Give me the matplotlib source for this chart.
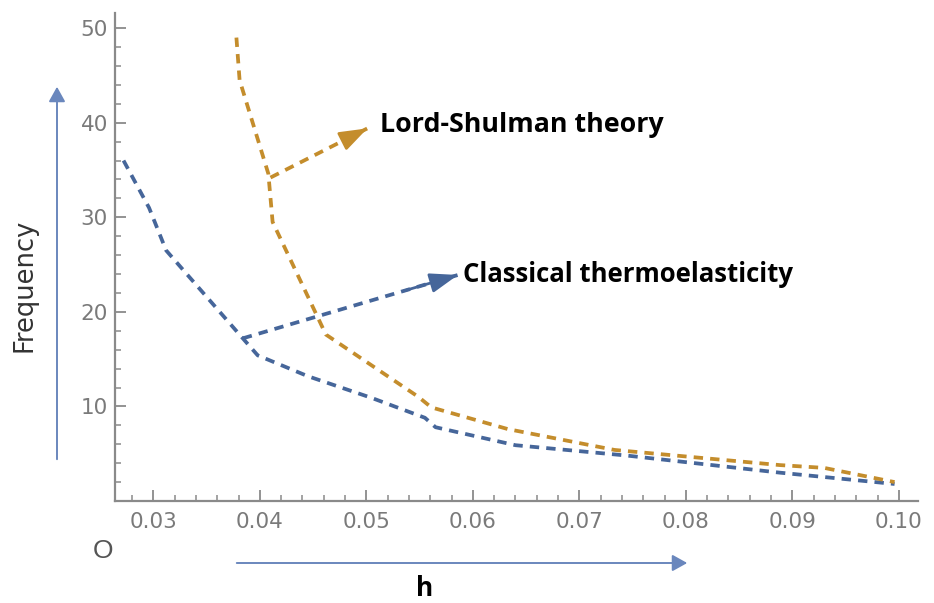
import matplotlib.pyplot as plt
from matplotlib.patches import FancyArrowPatch
from matplotlib.ticker import MultipleLocator, FormatStrFormatter

# data
h_classical = [0.0272, 0.0296, 0.0312, 0.0384, 0.0398, 0.0445, 0.0505, 0.0555, 0.0565,
               0.0640, 0.0745, 0.0888, 0.0942, 0.0996]
f_classical = [36.0, 31.0, 26.5, 17.2, 15.4, 13.2, 10.9, 8.8, 7.8,
               5.9, 4.8, 3.0, 2.4, 1.8]

h_ls = [0.0378, 0.0381, 0.0408, 0.0412, 0.0462, 0.0549, 0.0561, 0.0633, 0.0733,
        0.0888, 0.0930, 0.0996]
f_ls = [49.0, 44.5, 34.6, 29.5, 17.6, 11.0, 9.9, 7.6, 5.4,
        3.8, 3.5, 2.0]

x_ticks = [0.03, 0.04, 0.05, 0.06, 0.07, 0.08, 0.09, 0.10]
y_ticks = [10, 20, 30, 40, 50]

# annotation arrows (start on the curve, tip next to the label)
ls_arrow = ((0.0410, 34.2), (0.0501, 39.4))
cl_arrow = ((0.0384, 17.2), (0.0586, 23.9))
ls_label = "Lord-Shulman theory"
cl_label = "Classical thermoelasticity"

blue = '#46669a'
orange = '#c48d2c'
axis_grey = '#8a8a8a'
guide_blue = '#6a87bd'

fig = plt.figure(figsize=(9.34, 6.03), dpi=100)
ax = fig.add_axes([115/934, 1 - 501/603, (918 - 115)/934, (501 - 13)/603])

dash = (2.5, 1.9)
lw = 2.7
ax.plot(h_classical, f_classical, color=blue, lw=lw, dashes=dash)
ax.plot(h_ls, f_ls, color=orange, lw=lw, dashes=dash)

# dashed shafts + solid heads for the labels
for (start, tip), col in [(ls_arrow, orange), (cl_arrow, blue)]:
    ax.plot([start[0], tip[0]], [start[1], tip[1]], color=col, lw=lw, dashes=dash)
    ax.annotate('', xy=tip, xytext=(tip[0] - (tip[0] - start[0]) * 0.25,
                                    tip[1] - (tip[1] - start[1]) * 0.25),
                arrowprops=dict(arrowstyle='-|>,head_length=1.7,head_width=0.6',
                                color=col, lw=2.0, shrinkA=0, shrinkB=0))

ax.text(ls_arrow[1][0] + 0.0012, ls_arrow[1][1] + 0.4, ls_label, fontsize=19.3,
        fontweight='bold', family='Open Sans', va='center', ha='left', color='black')
ax.text(cl_arrow[1][0] + 0.0005, cl_arrow[1][1], cl_label, fontsize=18.5,
        fontweight='bold', family='Open Sans', va='center', ha='left', color='black')

ax.set_xlim(0.0264, 0.1018)
ax.set_ylim(0, 51.6)
ax.set_xticks(x_ticks)
ax.set_yticks(y_ticks)
ax.xaxis.set_minor_locator(MultipleLocator(0.002))
ax.yaxis.set_minor_locator(MultipleLocator(2))
ax.xaxis.set_major_formatter(FormatStrFormatter('%.2f'))

for side in ['top', 'right']:
    ax.spines[side].set_visible(False)
for side in ['left', 'bottom']:
    ax.spines[side].set_color(axis_grey)
    ax.spines[side].set_linewidth(1.6)

ax.tick_params(which='major', direction='in', length=8, width=1.3,
               color=axis_grey, labelcolor='#7a7a7a', labelsize=15.5)
ax.tick_params(which='minor', direction='in', length=4.5, width=1.1, color=axis_grey)
ax.tick_params(axis='x', pad=8)
ax.tick_params(axis='y', pad=5)

# axis guide arrows and labels outside the plot area
fig.patches.append(FancyArrowPatch(
    (57/934, 1 - 462/603), (57/934, 1 - 84/603), transform=fig.transFigure,
    arrowstyle='-|>,head_length=9,head_width=5', color=guide_blue, lw=1.4))
fig.patches.append(FancyArrowPatch(
    (234/934, 1 - 563/603), (690/934, 1 - 563/603), transform=fig.transFigure,
    arrowstyle='-|>,head_length=9,head_width=5', color=guide_blue, lw=1.4))

fig.text(25/934, 1 - 285/603, 'Frequency', rotation=90, fontsize=18.5,
         family='DejaVu Sans', color='#333333', ha='center', va='center')
fig.text(425/934, 1 - 589/603, 'h', fontsize=19, fontweight='bold',
         family='Open Sans', color='black', ha='center', va='center')
fig.text(103/934, 1 - 551/603, 'O', fontsize=19, family='Liberation Sans',
         color='#555555', ha='center', va='center')

fig.savefig('out.png', dpi=100, facecolor='white')
